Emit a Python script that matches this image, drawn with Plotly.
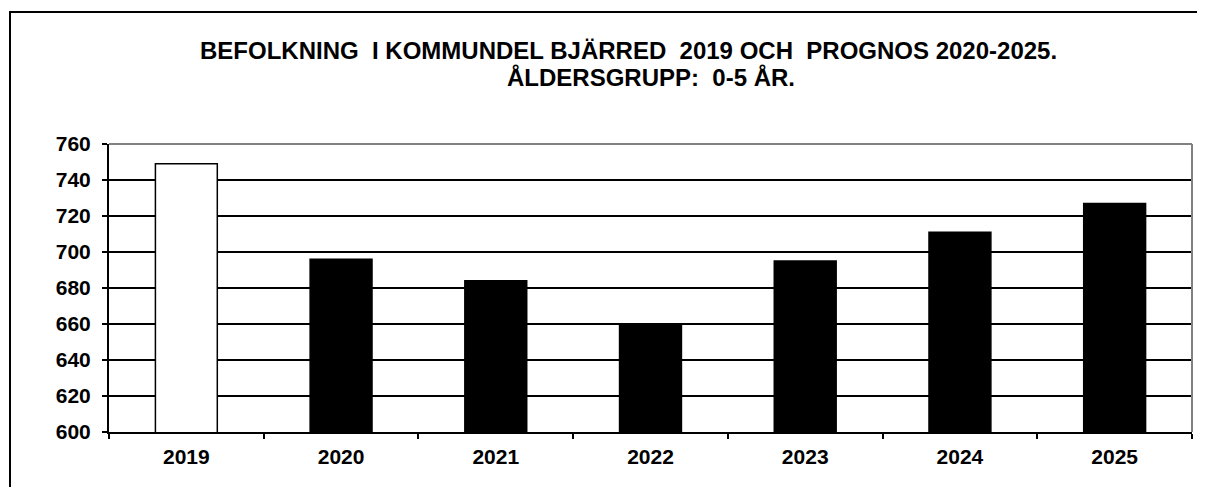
import plotly.graph_objects as go

years = ["2019", "2020", "2021", "2022", "2023", "2024", "2025"]
population = [749, 696, 684, 660, 695, 711, 727]
fill_colors = ["#ffffff", "#000000", "#000000", "#000000", "#000000", "#000000", "#000000"]
y_ticks = [600, 620, 640, 660, 680, 700, 720, 740, 760]
title_line1 = "BEFOLKNING  I KOMMUNDEL BJÄRRED  2019 OCH  PROGNOS 2020-2025."
title_line2 = "ÅLDERSGRUPP:  0-5 ÅR."

FONT = "Liberation Sans, Arial, sans-serif"

# page body has an 8px margin; the figure is sized so it fits the 1205x495 window
W, H = 1189, 479
ML, MR, MT, MB = 101, 5, 136, 55
PW = W - ML - MR   # plot width in px
PH = H - MT - MB   # plot height in px

fig = go.Figure()
fig.add_trace(go.Bar(
    x=years, y=population,
    marker=dict(color=fill_colors, line=dict(color="#000000", width=1.5)),
    width=0.4,
    hoverinfo="x+y",
))

fig.update_layout(
    width=W, height=H,
    margin=dict(l=ML, r=MR, t=MT, b=MB),
    paper_bgcolor="#ffffff", plot_bgcolor="#ffffff",
    showlegend=False,
    font=dict(family=FONT, color="#000000"),
    xaxis=dict(
        type="category",
        showline=True, linecolor="#000000", linewidth=2,
        ticks="outside", tickson="boundaries", ticklen=5, tickwidth=1.5, tickcolor="#000000",
        tickfont=dict(family=FONT, size=21, color="#000000", weight="bold"),
        showgrid=False,
        ticklabelstandoff=5,
    ),
    yaxis=dict(
        range=[600, 760],
        tickvals=y_ticks,
        showline=True, linecolor="#000000", linewidth=2,
        ticks="outside", ticklen=5, tickwidth=1.5, tickcolor="#000000",
        tickfont=dict(family=FONT, size=21, color="#000000", weight="bold"),
        showgrid=True, gridcolor="#000000", gridwidth=1.5,
        zeroline=False,
        ticklabelstandoff=7,
    ),
    shapes=[
        # gray top and right plot-area border
        dict(type="line", xref="paper", yref="paper", x0=0, x1=1, y0=1, y1=1,
             line=dict(color="#808080", width=2), layer="above"),
        dict(type="line", xref="paper", yref="paper", x0=1, x1=1, y0=0, y1=1,
             line=dict(color="#808080", width=2), layer="above"),
        # outer chart frame (extends past right and bottom edges of page)
        dict(type="rect", xref="paper", yref="paper",
             x0=(2 - ML) / PW, x1=1.05, y0=-0.5, y1=1 + (MT - 4) / PH,
             line=dict(color="#000000", width=2), fillcolor="rgba(0,0,0,0)", layer="above"),
    ],
    annotations=[
        dict(text=title_line1, xref="paper", yref="paper",
             x=(620.5 - ML) / PW, y=1 + (MT - 43) / PH,
             xanchor="center", yanchor="middle", showarrow=False,
             font=dict(family=FONT, size=24, color="#000000", weight="bold")),
        dict(text=title_line2, xref="paper", yref="paper",
             x=(642.5 - ML) / PW, y=1 + (MT - 69.2) / PH,
             xanchor="center", yanchor="middle", showarrow=False,
             font=dict(family=FONT, size=24, color="#000000", weight="bold")),
    ],
)

fig.write_html("out.html")
